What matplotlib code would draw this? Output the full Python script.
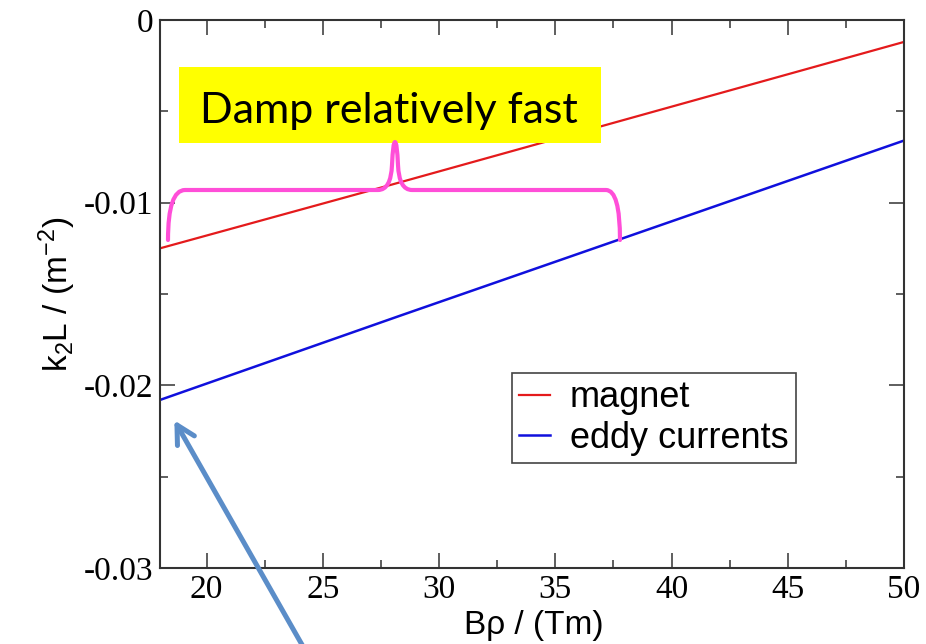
import matplotlib
matplotlib.use("Agg")
import matplotlib.pyplot as plt
from matplotlib.path import Path
from matplotlib.patches import PathPatch, Rectangle, FancyArrowPatch
from matplotlib.ticker import MultipleLocator
from matplotlib import font_manager

plt.rcParams["font.family"] = "serif"
plt.rcParams["font.serif"] = ["Liberation Serif", "DejaVu Serif"]
plt.rcParams["mathtext.fontset"] = "custom"
plt.rcParams["mathtext.rm"] = "Liberation Sans"
plt.rcParams["mathtext.it"] = "Liberation Sans"
plt.rcParams["mathtext.default"] = "regular"

# Data
brho_magnet = [18, 28, 50]
k2l_magnet = [-0.0125, -0.0090, -0.0012]
brho_eddy = [18, 28.3, 50]
k2l_eddy = [-0.0208, -0.0162, -0.0066]
series_labels = ["magnet", "eddy currents"]
xticks = [20, 25, 30, 35, 40, 45, 50]
yticks = [0, -0.01, -0.02, -0.03]
ytick_labels = ["0", "-0.01", "-0.02", "-0.03"]
annotation_text = "Damp relatively fast"

W, H = 926, 644
fig = plt.figure(figsize=(W / 100, H / 100), dpi=100)

def fx(x):
    return x / W

def fy(y):
    return 1 - y / H

serif = font_manager.FontProperties(family="Liberation Serif", size=24)

ax = fig.add_axes([fx(160), fy(568), (904 - 160) / W, (568 - 20) / H])
ax.plot(brho_magnet, k2l_magnet, color="#e41a1c", lw=1.6, label=series_labels[0])
ax.plot(brho_eddy, k2l_eddy, color="#1010dd", lw=1.8, label=series_labels[1])
ax.set_xlim(18, 50)
ax.set_ylim(-0.03, 0)
ax.set_xticks(xticks)
ax.set_xticklabels([str(t) for t in xticks], fontproperties=serif)
ax.set_yticks(yticks)
ax.set_yticklabels(ytick_labels, fontproperties=serif)
ax.xaxis.set_minor_locator(MultipleLocator(2.5))
ax.yaxis.set_minor_locator(MultipleLocator(0.005))
ax.tick_params(which="both", direction="in", top=True, right=True, color="#333333", width=1.1)
ax.tick_params(which="major", length=11, pad=5)
ax.tick_params(which="minor", length=6)
for sp in ax.spines.values():
    sp.set_linewidth(1.5)
    sp.set_color("#333333")

ax.set_xlabel("B\u03c1 / (Tm)", fontfamily="Liberation Sans", fontsize=24, va="bottom")
ax.xaxis.set_label_coords(fx(534), fy(641), transform=fig.transFigure)
ax.set_ylabel("k$_2$L / (m$^{-2}$)", fontfamily="Liberation Sans", fontsize=24, labelpad=4)

leg = ax.legend(loc="upper left", bbox_to_anchor=(fx(512), fy(373)),
                bbox_transform=fig.transFigure, prop={"family": "Liberation Sans", "size": 26},
                handlelength=0.85, handletextpad=0.55, labelspacing=0.15, borderpad=0.2,
                fancybox=False, framealpha=1, edgecolor="#444444", borderaxespad=0)
leg.get_frame().set_linewidth(1.2)

# Yellow box annotation
fig.patches.append(Rectangle((fx(179), fy(143)), (601 - 179) / W, (143 - 67) / H,
                             transform=fig.transFigure, facecolor="#ffff00", edgecolor="none", zorder=5))
fig.text(fx(389), fy(123), annotation_text, fontfamily="Lato", fontsize=31,
         ha="center", va="baseline", color="black", zorder=6)

# Magenta brace
pts = [(168, 240), (168, 190), (185, 190),
       (378, 190), (391, 190), (392, 165),
       (393, 142), (395, 142), (397, 142),
       (398, 165), (399, 190), (412, 190),
       (606, 190), (620, 190), (620, 240)]
codes = [Path.MOVETO, Path.CURVE3, Path.CURVE3,
         Path.LINETO, Path.CURVE3, Path.CURVE3,
         Path.CURVE3, Path.CURVE3, Path.CURVE3,
         Path.CURVE3, Path.CURVE3, Path.CURVE3,
         Path.LINETO, Path.CURVE3, Path.CURVE3]
path = Path([(fx(x), fy(y)) for x, y in pts], codes)
fig.patches.append(PathPatch(path, transform=fig.transFigure, facecolor="none",
                             edgecolor="#ff4ed8", lw=3.0, capstyle="round", joinstyle="round", zorder=7))

# Blue arrow
arr = FancyArrowPatch((fx(305), fy(650)), (fx(173), fy(418)), transform=fig.transFigure,
                      arrowstyle="->,head_length=13,head_width=7", color="#5b8dc8",
                      lw=3.6, mutation_scale=1, zorder=8)
fig.patches.append(arr)

fig.savefig("out.png", dpi=100)
